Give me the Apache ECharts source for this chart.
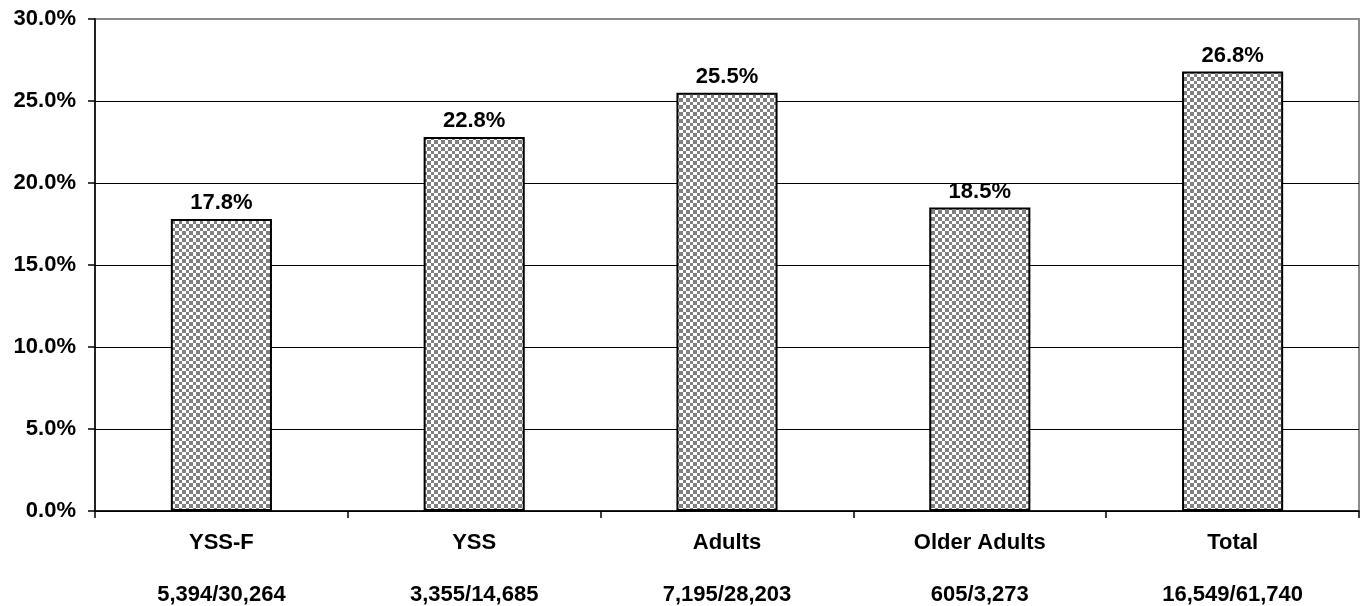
<!DOCTYPE html>
<html>
<head>
<meta charset="utf-8">
<script src="https://cdn.jsdelivr.net/npm/echarts@6/dist/echarts.min.js"></script>
<style>
  html, body { margin: 0; padding: 0; background: #fff; }
  #chart { width: 1363px; height: 606px; }
</style>
</head>
<body>
<div id="chart"></div>
<script>
// Chart data
const categories = ['YSS-F', 'YSS', 'Adults', 'Older Adults', 'Total'];
const counts = ['5,394/30,264', '3,355/14,685', '7,195/28,203', '605/3,273', '16,549/61,740'];
const rates = [17.8, 22.8, 25.5, 18.5, 26.8];
const yTicks = [0, 5, 10, 15, 20, 25, 30];

// Checkerboard fill for the bars (7px repeat: 4px + 3px squares)
function checkerPattern(a, b, dark) {
  const n = a + b;
  const c = document.createElement('canvas');
  c.width = n;
  c.height = n;
  const ctx = c.getContext('2d');
  ctx.fillStyle = '#ffffff';
  ctx.fillRect(0, 0, n, n);
  ctx.fillStyle = dark;
  ctx.fillRect(0, 0, a, a);
  ctx.fillRect(a, a, b, b);
  return c;
}

const FONT = 'Liberation Sans, Arial, sans-serif';
const FS = 22;
const chart = echarts.init(document.getElementById('chart'), null, { renderer: 'canvas' });

// top gridline is grey (plot border), the others are black
const gridColors = yTicks.map((v, i) => (i === yTicks.length - 1 ? '#8c8c8c' : '#000000'));

chart.setOption({
  animation: false,
  backgroundColor: '#ffffff',
  grid: {
    left: 95, right: 4, top: 19, bottom: 95,
    containLabel: false,
    outerBoundsMode: 'none',
    show: true, borderColor: '#8c8c8c', borderWidth: 2, backgroundColor: 'transparent'
  },
  xAxis: {
    type: 'category',
    data: categories,
    axisLine: { lineStyle: { color: '#000', width: 1.5 } },
    axisTick: { show: true, interval: 0, length: 7, lineStyle: { color: '#000', width: 1.5 } },
    axisLabel: {
      interval: 0,
      margin: 6,
      formatter: (v, i) => '{a|' + v + '}\n{b|' + counts[i] + '}',
      rich: {
        a: { fontFamily: FONT, fontWeight: 'bold', fontSize: FS, color: '#000', lineHeight: 52 },
        b: { fontFamily: FONT, fontWeight: 'bold', fontSize: FS, color: '#000', lineHeight: 52 }
      }
    }
  },
  yAxis: {
    type: 'value',
    min: 0, max: 30, interval: 5,
    axisLine: { show: true, lineStyle: { color: '#000', width: 1.5 } },
    axisTick: { show: true, length: 7, lineStyle: { color: '#000', width: 1.5 } },
    axisLabel: {
      margin: 19,
      fontFamily: FONT, fontWeight: 'bold', fontSize: FS, color: '#000',
      formatter: v => v.toFixed(1) + '%'
    },
    splitLine: { show: true, lineStyle: { color: gridColors, width: 1.2 } }
  },
  series: [{
    type: 'bar',
    data: rates,
    barWidth: '40%',
    itemStyle: {
      color: { image: checkerPattern(4, 3, '#808080'), repeat: 'repeat' },
      borderColor: '#000',
      borderWidth: 2
    },
    label: {
      show: true,
      position: 'top',
      distance: 5,
      fontFamily: FONT, fontWeight: 'bold', fontSize: FS, color: '#000',
      formatter: p => p.value.toFixed(1) + '%'
    }
  }]
});
</script>
</body>
</html>
